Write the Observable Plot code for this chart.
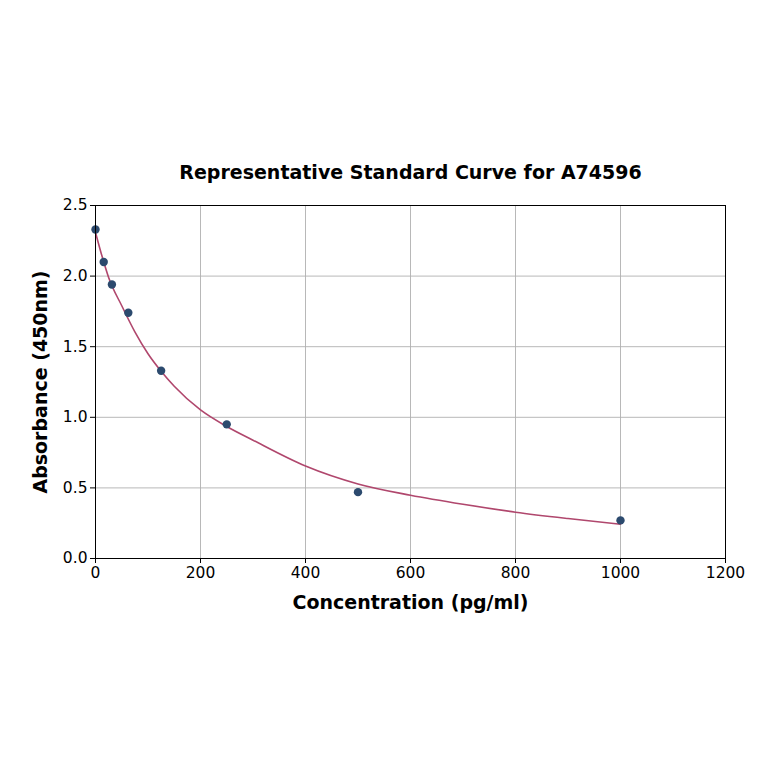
<!DOCTYPE html>
<html>
<head>
<meta charset="utf-8">
<script src="https://cdn.jsdelivr.net/npm/d3@7"></script>
<script src="https://cdn.jsdelivr.net/npm/@observablehq/plot@0.6"></script>
<style>
  html, body { margin: 0; padding: 0; background: #fff; }
  #chart { width: 764px; height: 764px; }
</style>
</head>
<body>
<div id="chart"></div>
<script>
const title = "Representative Standard Curve for A74596";
const xLabel = "Concentration (pg/ml)";
const yLabel = "Absorbance (450nm)";

// measured standards
const concentrations = [0, 15.625, 31.25, 62.5, 125, 250, 500, 1000];
const absorbances = [2.33, 2.10, 1.94, 1.74, 1.33, 0.95, 0.47, 0.27];

// fitted curve
const curveX = [0, 12.5, 25, 50, 75, 100, 125, 150, 200, 250, 300, 400, 500, 600, 700, 800, 900, 1000];
const curveY = [2.31, 2.14, 1.99, 1.79, 1.605, 1.45, 1.326, 1.22, 1.052, 0.935, 0.838, 0.655, 0.528, 0.448, 0.384, 0.328, 0.283, 0.243];

const xTicks = [0, 200, 400, 600, 800, 1000, 1200];
const yTicks = [0.0, 0.5, 1.0, 1.5, 2.0, 2.5];

const points = concentrations.map((c, i) => ({x: c, y: absorbances[i]}));
const curve = curveX.map((c, i) => ({x: c, y: curveY[i]}));

const chart = Plot.plot({
  width: 764,
  height: 764,
  marginLeft: 95,
  marginRight: 39,
  marginTop: 205,
  marginBottom: 206,
  style: {fontFamily: "'DejaVu Sans', sans-serif", fontSize: "15.5px", color: "#000", background: "#fff"},
  x: {domain: [0, 1200], ticks: xTicks, tickFormat: d3.format("d")},
  y: {domain: [0, 2.5], ticks: yTicks, tickFormat: d3.format(".1f")},
  marks: [
    Plot.gridX(xTicks, {stroke: "#b0b0b0", strokeOpacity: 1, strokeWidth: 0.9}),
    Plot.gridY(yTicks, {stroke: "#b0b0b0", strokeOpacity: 1, strokeWidth: 0.9}),
    Plot.axisX(xTicks, {label: null, tickSize: 5, tickPadding: 3, fontSize: 15.5, tickFormat: d3.format("d")}),
    Plot.axisY(yTicks, {label: null, tickSize: 5, tickPadding: 3, fontSize: 15.5, tickFormat: d3.format(".1f")}),
    Plot.line(curve, {x: "x", y: "y", stroke: "#b0476d", strokeWidth: 1.6, curve: "monotone-x"}),
    Plot.dot(points, {x: "x", y: "y", r: 4.2, fill: "#2c4a6e", stroke: "none"}),
    Plot.frame({stroke: "#000", strokeWidth: 1}),
    Plot.text([title], {frameAnchor: "top", dy: -33, fontSize: 19, fontWeight: "bold", lineAnchor: "middle"}),
    Plot.text([xLabel], {frameAnchor: "bottom", dy: 44, fontSize: 19, fontWeight: "bold", lineAnchor: "middle"}),
    Plot.text([yLabel], {frameAnchor: "left", dx: -55, rotate: -90, fontSize: 19, fontWeight: "bold", lineAnchor: "middle", textAnchor: "middle"})
  ]
});
document.getElementById("chart").appendChild(chart);
</script>
</body>
</html>
